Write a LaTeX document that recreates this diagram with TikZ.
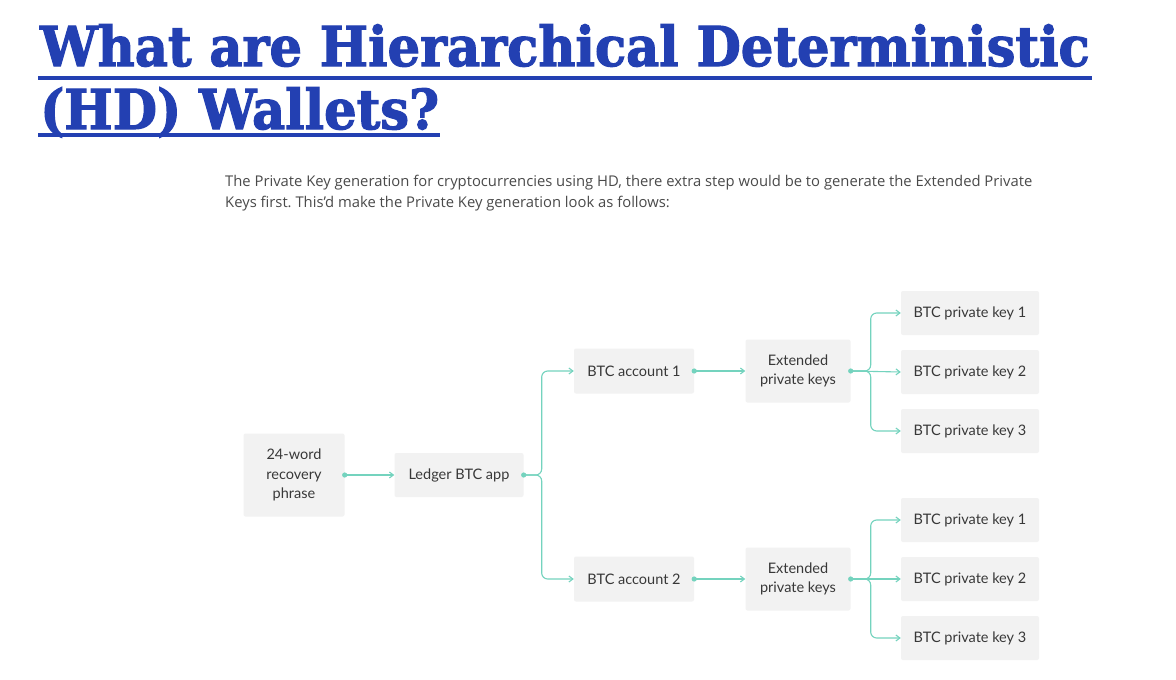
\documentclass[tikz,border=0pt]{standalone}
\usepackage{fontspec}
\usepackage{xcolor}
\usetikzlibrary{arrows.meta}
\setmainfont{Lato}
\newfontfamily\titlefont{DejaVu Serif Bold}[FakeBold=2.2]
\newfontfamily\bodyfont{Open Sans}
\definecolor{title-blue}{HTML}{2340B2}
\definecolor{body-grey}{HTML}{4A4A4A}
\definecolor{box-grey}{HTML}{F2F2F2}
\definecolor{link-teal}{HTML}{74D3BE}
\tikzset{
    key-box/.style = {fill=box-grey, draw=none, rectangle, rounded corners=2pt, inner sep=2pt, align=center, text=black!78, font=\fontsize{14.5}{19.5}\selectfont},
    link-line/.style = {draw=link-teal, line width=1.1pt, -{Straight Barb[length=4pt, width=6pt]}},
    link-dot/.style = {fill=link-teal},
    title-text/.style = {anchor=base west, inner sep=0, text=title-blue, font=\titlefont\fontsize{55}{55}\selectfont},
}
\frenchspacing

\begin{document}
\begin{tikzpicture}[x=1pt, y=-1pt]
\fill[white] (0,0) rectangle (1176,680);
% title
\node[title-text] (title-a) at (40,66) {\scalebox{0.93}[1]{What are Hierarchical Deterministic}};
\node[title-text] (title-b) at (40,129) {\scalebox{0.93}[1]{(HD) Wallets?}};
\fill[title-blue] (38,76) rectangle (1092,80);
\fill[title-blue] (38,133) rectangle (440,137);
% intro text
\node[anchor=base west, inner sep=0, text=body-grey, font=\bodyfont\fontsize{14.8}{21}\selectfont, align=left] (intro) at (225,207) {The Private Key generation for cryptocurrencies using HD, there extra step would be to generate the Extended Private\\Keys first. This’d make the Private Key generation look as follows:};
% boxes
\node[key-box, minimum width=101pt, minimum height=83pt] (phrase) at (294,475) {24-word\\recovery\\phrase};
\node[key-box, minimum width=129pt, minimum height=44pt] (app) at (459,475) {Ledger BTC app};
\node[key-box, minimum width=120pt, minimum height=45pt] (acc-a) at (634,371) {BTC account 1};
\node[key-box, minimum width=120pt, minimum height=45pt] (acc-b) at (634,579) {BTC account 2};
\node[key-box, minimum width=105pt, minimum height=63pt] (ext-a) at (798,371) {Extended\\private keys};
\node[key-box, minimum width=105pt, minimum height=63pt] (ext-b) at (798,579) {Extended\\private keys};
\foreach \n/\y in {1/313,2/372,3/431}{
    \node[key-box, minimum width=138pt, minimum height=44pt] (key-a\n) at (970,\y) {BTC private key \n};
}
\foreach \n/\y in {1/520,2/579,3/638}{
    \node[key-box, minimum width=138pt, minimum height=44pt] (key-b\n) at (970,\y) {BTC private key \n};
}
% links
\draw[link-line] (phrase.east) -- (app.west);
\draw[link-line, rounded corners=6pt] (app.east) -- ([xshift=18pt]app.east) |- (acc-a.west);
\draw[link-line, rounded corners=6pt] (app.east) -- ([xshift=18pt]app.east) |- (acc-b.west);
\draw[link-line] (acc-a.east) -- (ext-a.west);
\draw[link-line] (acc-b.east) -- (ext-b.west);
\foreach \s in {a,b}{
    \draw[link-line] (ext-\s.east) -- (key-\s2.west);
    \draw[link-line, rounded corners=6pt] (ext-\s.east) -- ([xshift=20pt]ext-\s.east) |- (key-\s1.west);
    \draw[link-line, rounded corners=6pt] (ext-\s.east) -- ([xshift=20pt]ext-\s.east) |- (key-\s3.west);
}
\foreach \b in {phrase,app,acc-a,acc-b,ext-a,ext-b}{
    \fill[link-dot] (\b.east) circle (2.6pt);
}
\end{tikzpicture}
\end{document}
